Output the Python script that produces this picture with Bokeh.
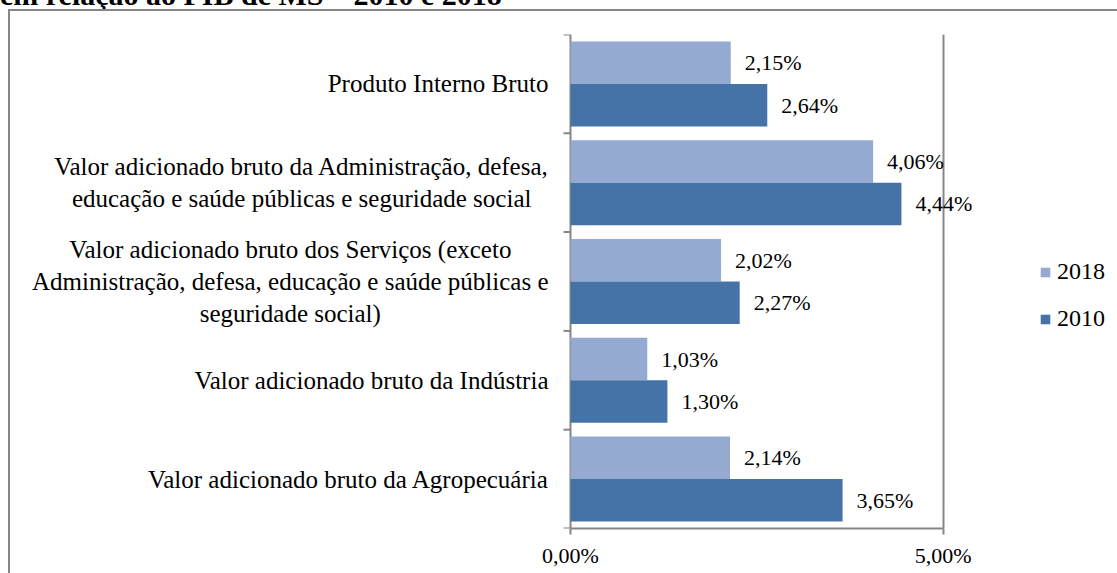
import glob
import math
from bokeh.plotting import figure
from bokeh.models import (Range1d, FixedTicker, LabelSet, ColumnDataSource,
                          Legend, LegendItem, Div)
from bokeh.layouts import column
from bokeh.embed import file_html
from bokeh.resources import INLINE

# ---- data (bottom to top) ----
categories = [
    "Valor adicionado bruto da Agropecuária",
    "Valor adicionado bruto da Indústria",
    "Valor adicionado bruto dos Serviços (exceto\nAdministração, defesa, educação e saúde públicas e\nseguridade social)",
    "Valor adicionado bruto da Administração, defesa,\neducação e saúde públicas e seguridade social",
    "Produto Interno Bruto",
]
values_2018 = [2.14, 1.03, 2.02, 4.06, 2.15]
values_2010 = [3.65, 1.30, 2.27, 4.44, 2.64]
series = ["2018", "2010"]
x_ticks = [0, 5]
title_text = "em relação ao PIB de MS – 2010 e 2018"

FONT = "Liberation Serif"
C18 = "#95AAD1"
C10 = "#4673A7"
GRAY = "#868686"
CAT_SIZE = 25
LINE_STEP = 32
CAT_STANDOFF = 22

# layout (pixels)
CANVAS_W = 1107
AXIS_LEFT_PX = 559      # where value 0 sits inside the canvas
AXIS_SPAN_PX = 372      # pixels between 0 and the last x tick

n = len(categories)
centers = [i + 0.5 for i in range(n)]
boundaries = list(range(n + 1))
bar_h = 0.43
y18 = [c + bar_h / 2 for c in centers]
y10 = [c - bar_h / 2 for c in centers]


def fmt(v):
    return f"{v:.2f}".replace(".", ",") + "%"


# text width measurement (for centred multi-line category labels)
_measure = None
try:
    from PIL import ImageFont
    paths = glob.glob("/usr/share/fonts/**/LiberationSerif-Regular.ttf", recursive=True) or \
        glob.glob("/usr/**/LiberationSerif-Regular.ttf", recursive=True)
    if paths:
        _pf = ImageFont.truetype(paths[0], CAT_SIZE)
        _measure = lambda s: _pf.getlength(s)
except Exception:
    _measure = None
if _measure is None:
    _measure = lambda s: len(s) * CAT_SIZE * 0.45

lab_y, lab_t, lab_dx, lab_dy = [], [], [], []
for c, cat in zip(centers, categories):
    lines = cat.split("\n")
    k = len(lines)
    w = max(_measure(s) for s in lines)
    for j, s in enumerate(lines):
        lab_y.append(c)
        lab_t.append(s)
        lab_dx.append(-(CAT_STANDOFF + w / 2))
        lab_dy.append(((k - 1) / 2 - j) * LINE_STEP)
cat_src = ColumnDataSource(dict(x=[0] * len(lab_y), y=lab_y, t=lab_t, dx=lab_dx, dy=lab_dy))

src18 = ColumnDataSource(dict(y=y18, v=values_2018, t=[fmt(v) for v in values_2018]))
src10 = ColumnDataSource(dict(y=y10, v=values_2010, t=[fmt(v) for v in values_2010]))

xmax = x_ticks[-1]
ppu = AXIS_SPAN_PX / xmax
x_start = -AXIS_LEFT_PX / ppu
x_end = (CANVAS_W - AXIS_LEFT_PX) / ppu

p = figure(frame_width=CANVAS_W, frame_height=492, output_backend="svg", toolbar_location=None,
           x_range=Range1d(x_start, x_end), y_range=Range1d(0, n),
           min_border_left=0, min_border_right=0, min_border_top=23,
           min_border_bottom=47, margin=(0, 0, 0, 8),
           styles={"border-left": f"2px solid {GRAY}", "border-top": f"2px solid {GRAY}",
                   "box-sizing": "content-box"})
p.outline_line_color = None
p.background_fill_color = "white"
p.border_fill_color = "white"
p.yaxis.visible = False

r18 = p.hbar(y="y", right="v", left=0, height=bar_h, source=src18,
             fill_color=C18, line_color=None)
r10 = p.hbar(y="y", right="v", left=0, height=bar_h, source=src10,
             fill_color=C10, line_color=None)

# category tick marks (between categories), pointing left from the value axis
p.ray(x=[0] * len(boundaries), y=boundaries, length=7, length_units="screen",
      angle=math.pi, line_color=GRAY, line_width=2)

for src in (src18, src10):
    p.add_layout(LabelSet(x="v", y="y", text="t", source=src, x_offset=14,
                          text_baseline="middle", text_align="left",
                          text_font=FONT, text_font_size="22px", text_color="black"))

p.add_layout(LabelSet(x="x", y="y", text="t", source=cat_src, x_offset="dx", y_offset="dy",
                      text_baseline="middle", text_align="center",
                      text_font=FONT, text_font_size=f"{CAT_SIZE}px", text_color="black"))

# x axis
xa = p.xaxis[0]
xa.bounds = (x_ticks[0], x_ticks[-1])
xa.ticker = FixedTicker(ticks=x_ticks)
xa.major_label_overrides = {t: fmt(t) for t in x_ticks}
xa.axis_line_color = GRAY
xa.axis_line_width = 2
xa.major_tick_line_color = GRAY
xa.major_tick_line_width = 2
xa.major_tick_out = 6
xa.major_tick_in = 0
xa.minor_tick_line_color = None
xa.major_label_text_font = FONT
xa.major_label_text_font_size = "22px"
xa.major_label_text_color = "black"
xa.major_label_standoff = 8

# vertical lines at 0 (value axis) and 5 (grid)
p.xgrid.ticker = FixedTicker(ticks=x_ticks)
p.xgrid.grid_line_color = GRAY
p.xgrid.grid_line_width = 2
p.ygrid.grid_line_color = None

legend = Legend(items=[LegendItem(label=series[0], renderers=[r18]),
                       LegendItem(label=series[1], renderers=[r10])],
                location=(1029, 196), glyph_width=12, glyph_height=12,
                label_standoff=6, spacing=20, padding=0, margin=0,
                border_line_color=None, background_fill_alpha=0,
                label_text_font=FONT, label_text_font_size="24px",
                label_text_color="black")
p.add_layout(legend, "center")

title_div = Div(text=f'<div style="font-family:\'{FONT}\';font-weight:bold;font-size:30px;'
                     f'line-height:30px;white-space:nowrap;color:black;">{title_text}</div>',
                width=1117, height=29, margin=(-20, 0, 0, 0))

layout = column(title_div, p, spacing=0)

with open("out.html", "w") as f:
    f.write(file_html(layout, INLINE))
